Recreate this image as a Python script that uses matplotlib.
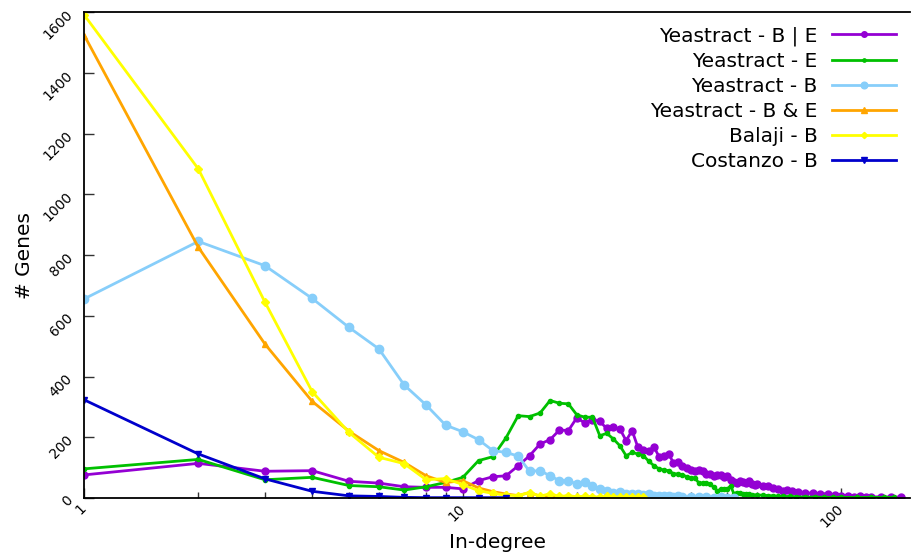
import matplotlib
matplotlib.use('Agg')
from matplotlib import pyplot as plt
from matplotlib.ticker import FixedLocator, NullFormatter

# in-degree distributions
be_or_x = [1, 2, 3, 4, 5, 6, 7, 8, 9, 10, 11, 12, 13, 14, 15, 16, 17, 18, 19, 20,
           21, 22, 23, 24, 25, 26, 27, 28, 29, 30, 31, 32, 33, 34, 35, 36, 37, 38, 39, 40,
           41, 42, 43, 44, 45, 46, 47, 48, 49, 50, 51, 52, 53, 54, 55, 56, 57, 58, 59, 60,
           62, 64, 66, 68, 70, 72, 74, 77, 80, 84, 88, 92, 96, 100, 104, 108, 112, 116, 120, 127,
           135, 144]
be_or_y = [76, 114, 88, 90, 55, 49, 37, 35, 35, 30, 57, 70, 73, 106, 139, 178, 192, 224, 222, 264,
           247, 258, 252, 229, 233, 227, 189, 222, 167, 158, 156, 167, 136, 139, 146, 115, 120, 105, 100, 92,
           88, 92, 90, 78, 80, 72, 75, 76, 70, 74, 60, 54, 50, 55, 53, 48, 55, 45, 42, 45,
           40, 38, 33, 28, 23, 25, 23, 20, 18, 15, 13, 12, 11, 8, 5, 4, 5, 4, 3, 4,
           3, 3]

e_x = [1, 2, 3, 4, 5, 6, 7, 8, 9, 10, 11, 12, 13, 14, 15, 16, 17, 18, 19, 20,
       21, 22, 23, 24, 25, 26, 27, 28, 29, 30, 31, 32, 33, 34, 35, 36, 37, 38, 39, 40,
       41, 42, 43, 44, 45, 46, 47, 48, 49, 50, 51, 52, 53, 54, 55, 56, 57, 58, 60, 62,
       64, 66, 68, 70, 73, 76, 80, 85, 90, 95, 100, 110, 120, 130, 138]
e_y = [96, 127, 60, 68, 41, 37, 26, 37, 51, 68, 123, 136, 198, 271, 268, 280, 321, 312, 310, 274,
       266, 266, 205, 213, 194, 172, 139, 150, 145, 139, 121, 106, 96, 92, 90, 80, 79, 77, 70, 67,
       66, 50, 49, 48, 47, 35, 24, 28, 31, 30, 40, 14, 18, 15, 14, 13, 13, 11, 10, 9,
       8, 7, 6, 5, 5, 4, 3, 3, 2, 2, 2, 2, 2, 2, 2]

b_x = [1, 2, 3, 4, 5, 6, 7, 8, 9, 10, 11, 12, 13, 14, 15, 16, 17, 18, 19, 20,
       21, 22, 23, 24, 25, 26, 27, 28, 29, 30, 31, 32, 33, 34, 35, 36, 37, 38, 40, 42,
       44, 46, 48, 50, 52]
b_y = [656, 845, 765, 657, 562, 491, 372, 306, 240, 218, 192, 156, 150, 138, 88, 90, 73, 57, 57, 46,
       51, 40, 30, 24, 18, 20, 14, 12, 14, 10, 12, 8, 8, 6, 7, 4, 5, 4, 3, 2,
       3, 1, 2, 1, 1]

b_and_e_x = list(range(1, 31))
b_and_e_y = [1523, 826, 507, 318, 220, 156, 117, 73, 51, 57, 33, 21, 13, 8, 18, 6, 5, 4, 3, 3,
             2, 2, 2, 1, 2, 1, 1, 1, 1, 1]

balaji_x = list(range(1, 31))
balaji_y = [1590, 1084, 645, 350, 216, 134, 113, 60, 64, 44, 24, 15, 9, 8, 18, 6, 14, 5, 8, 4,
            6, 4, 3, 5, 3, 3, 2, 3, 2, 2]

costanzo_x = [1, 2, 3, 4, 5, 6, 7, 8, 9, 11, 13]
costanzo_y = [323, 145, 63, 22, 7, 5, 2, 1, 1, 1, 1]

labels = ['Yeastract - B | E', 'Yeastract - E', 'Yeastract - B',
          'Yeastract - B & E', 'Balaji - B', 'Costanzo - B']

fig = plt.figure(figsize=(9.12, 5.53), dpi=100)
ax = fig.add_axes([0.0925, 0.0995, 0.9055, 0.8785])

ax.plot(be_or_x, be_or_y, color='#9400d3', lw=2, marker='o', ms=5, label=labels[0])
ax.plot(e_x, e_y, color='#00c000', lw=2, marker='o', ms=3, label=labels[1])
ax.plot(b_x, b_y, color='#87cefa', lw=2, marker='o', ms=6, label=labels[2])
ax.plot(b_and_e_x, b_and_e_y, color='#ffa500', lw=2, marker='^', ms=5, label=labels[3])
ax.plot(balaji_x, balaji_y, color='#ffff00', lw=2, marker='D', ms=4, label=labels[4])
ax.plot(costanzo_x, costanzo_y, color='#0000cc', lw=2, marker='v', ms=5, label=labels[5])

ax.set_xscale('log')
ax.set_xlim(1, 152)
ax.set_ylim(0, 1600)

ax.xaxis.set_major_locator(FixedLocator([1, 10, 100]))
ax.xaxis.set_minor_locator(FixedLocator([2, 3, 4, 5, 6, 7, 8, 9, 20, 30, 40, 50, 60, 70, 80, 90]))
ax.xaxis.set_minor_formatter(NullFormatter())
ax.set_xticklabels(['1', '10', '100'])
ax.set_yticks(range(0, 1601, 200))

# gnuplot look: ticks inside, only bottom and left
ax.tick_params(which='both', direction='in', top=False, right=False, color='#333333')
ax.tick_params(which='major', length=7, width=1, labelsize=10)
ax.tick_params(which='minor', length=4, width=1)
for t in ax.get_xticklabels() + ax.get_yticklabels():
    t.set_rotation(45)
    t.set_ha('right')
    t.set_va('center')
    t.set_rotation_mode('anchor')
ax.tick_params(axis='x', pad=6)
ax.tick_params(axis='y', pad=10)

ax.spines['right'].set_visible(False)
for s in ax.spines.values():
    s.set_linewidth(1.3)

ax.set_xlabel('In-degree', fontsize=14.5, labelpad=2)
ax.set_ylabel('# Genes', fontsize=14.5, labelpad=5)

ax.legend(loc='upper right', frameon=False, fontsize=14.5, markerfirst=False,
          handlelength=3.2, handletextpad=0.7, labelspacing=0.3,
          borderaxespad=0.3, markerscale=0.8)

plt.savefig('out.png', dpi=100)
